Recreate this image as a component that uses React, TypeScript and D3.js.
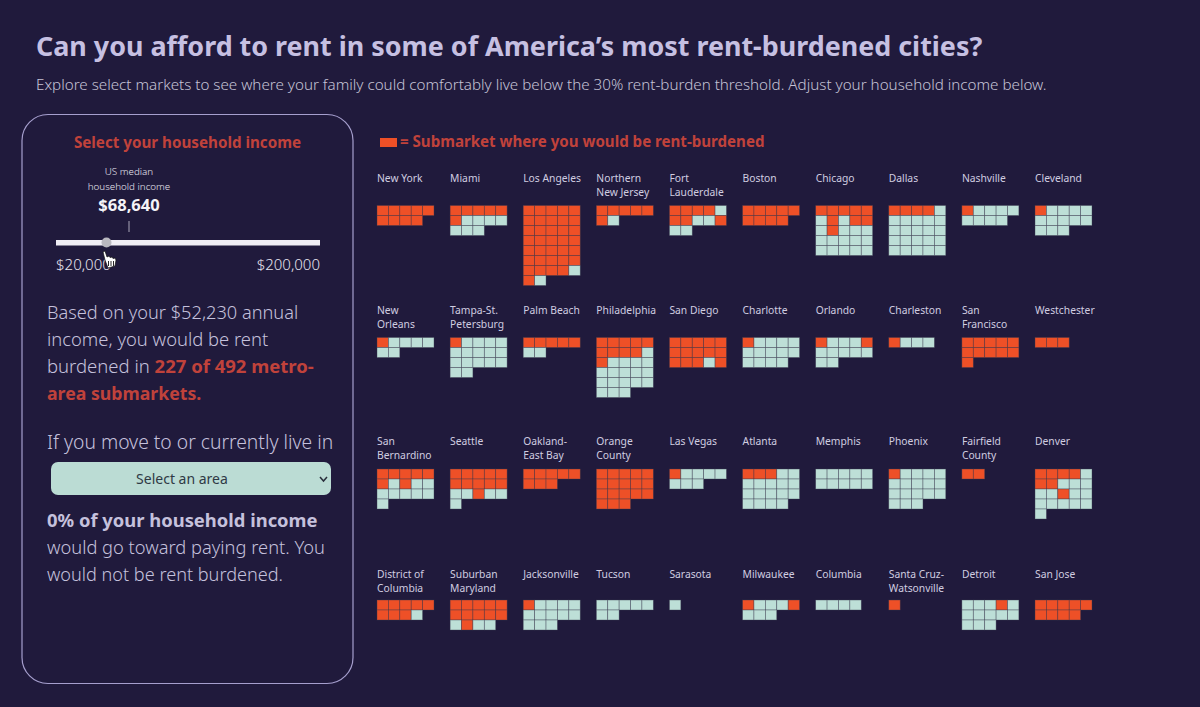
import React from "react";
import * as d3 from "d3";

const BG = "#201a3c";
const RED_CELL = "#ee5027";
const GREEN_CELL = "#bddfd7";
const RED_TEXT = "#c0423b";
const LAV = "#c6c0e2";
const BODY = "#c5c1dc";
const FONT = "'Noto Sans', sans-serif";

const cityLabels: string[][] = [
  ["New York"], ["Miami"], ["Los Angeles"], ["Northern", "New Jersey"], ["Fort", "Lauderdale"], ["Boston"], ["Chicago"], ["Dallas"], ["Nashville"], ["Cleveland"],
  ["New", "Orleans"], ["Tampa-St.", "Petersburg"], ["Palm Beach"], ["Philadelphia"], ["San Diego"], ["Charlotte"], ["Orlando"], ["Charleston"], ["San", "Francisco"], ["Westchester"],
  ["San", "Bernardino"], ["Seattle"], ["Oakland-", "East Bay"], ["Orange", "County"], ["Las Vegas"], ["Atlanta"], ["Memphis"], ["Phoenix"], ["Fairfield", "County"], ["Denver"],
  ["District of", "Columbia"], ["Suburban", "Maryland"], ["Jacksonville"], ["Tucson"], ["Sarasota"], ["Milwaukee"], ["Columbia"], ["Santa Cruz-", "Watsonville"], ["Detroit"], ["San Jose"],
];

// r = submarket where the household would be rent-burdened, g = not burdened; 5 cells per row
const citySubmarkets: string[] = [
  "rrrrr rrrr", "rrrrr rgggg ggg", "rrrrr rrrrr rrrrr rrrrr rrrrr rrrrr rrrrg rg", "rrrrr rg", "rrrrg rrggr gg", "rrrrr rrrr", "rrrrr grgrr grggg ggggg ggggg", "rrrrg ggggg ggggg ggggg ggggg", "rgggg gggg", "rgggg ggggg ggg",
  "rgggg gg", "rgggg ggggg ggggg gg", "rrrrr gg", "rrrrr rrrrg rgggg ggggg ggggg ggg", "rrrrr rrrrr rrrgr", "rgggg ggggg gggg", "rgggr ggggg gg", "rggg", "rrrrr rrrrr r", "rrr",
  "rrrrr rgrgg ggggg g", "rrrrr rrrrr ggrgg g", "rrrrr rrr", "rrrrr rrrrr rrrrr rrr", "rgggg ggg", "rrrgg ggggg ggggg gggg", "ggggg ggggg", "rgggg ggggg ggggg ggg", "rr", "rrrrg rrggg ggrgg ggggg g",
  "rrrrr rrrg", "rrrrr rrrrr grgg", "rgggg ggggg ggg", "ggggg gg", "g", "rgggr ggg", "gggg", "r", "gggrg ggggg ggg", "rrrrr rrrr",
];

const rowLabelY = [182, 314, 445, 578];
const rowGridY = [205.5, 337.5, 469, 600];

const COLS = 10;
const x = d3.scaleLinear().domain([0, COLS - 1]).range([377, 1035]);
const cellX = d3.scaleLinear().domain([0, 5]).range([0, 57]);
const cellY = d3.scaleLinear().domain([0, 8]).range([0, 80]);
const incomeX = d3.scaleLinear().domain([20000, 200000]).range([56, 320]);

const leftLines: { y: number; size: number; parts: { t: string; bold?: boolean }[] }[] = [
  { y: 319, size: 18.2, parts: [{ t: "Based on your $52,230 annual" }] },
  { y: 346, size: 18.4, parts: [{ t: "income, you would be rent" }] },
  { y: 373, size: 18.5, parts: [{ t: "burdened in " }, { t: "227 of 492 metro-", bold: true }] },
  { y: 400, size: 17.7, parts: [{ t: "area submarkets.", bold: true }] },
];

export default function App() {
  return (
    <svg width={1200} height={707} style={{ position: "absolute", left: 0, top: 0, display: "block" }} fontFamily={FONT}>
      <rect width={1200} height={707} fill={BG} />
      <text x={36} y={56} fontSize={26.9} fontWeight={700} fill={LAV}>Can you afford to rent in some of America’s most rent-burdened cities?</text>
      <text x={36} y={90} fontSize={15.2} fontWeight={300} fill="#c5c3d6">Explore select markets to see where your family could comfortably live below the 30% rent-burden threshold. Adjust your household income below.</text>

      <rect x={22} y={114.5} width={331} height={569} rx={26} fill="none" stroke="#a69fce" strokeWidth={1.2} />
      <text x={187.5} y={148} fontSize={15.2} fontWeight={700} fill={RED_TEXT} textAnchor="middle">Select your household income</text>
      <text x={129} y={175} fontSize={9.8} fontWeight={300} fill="#e8e6f0" textAnchor="middle">US median</text>
      <text x={129} y={190} fontSize={9.8} fontWeight={300} fill="#e8e6f0" textAnchor="middle">household income</text>
      <text x={129} y={211} fontSize={16.5} fontWeight={700} fill="#f4f3f8" textAnchor="middle">$68,640</text>
      <line x1={129} x2={129} y1={221} y2={232} stroke="#a9a6b8" strokeWidth={1} />
      <rect x={incomeX(20000)} y={240} width={incomeX(200000) - incomeX(20000)} height={5.5} fill="#efedf4" />
      <circle cx={106.5} cy={242.5} r={5} fill="#b9b8bf" />
      <text x={56} y={270} fontSize={15} fontWeight={300} fill="#e6e4ee">$20,000</text>
      <text x={320} y={270} fontSize={15} fontWeight={300} fill="#e6e4ee" textAnchor="end">$200,000</text>
      <g transform="translate(102,251)" stroke="#111" strokeWidth={0.7} fill="#fff">
        <path d="M1,1 L3,0 L5,6 L7,5 L8,6.5 L10,6 L11,7.5 L13,7 L14,9 L13,15 L6,17 L3,9 Z" />
        <path d="M6.5,10 V15 M9,10 V15 M11.5,10 V15" fill="none" strokeWidth={0.9} />
      </g>

      {leftLines.map((l) => (
        <text key={l.y} x={47} y={l.y} fontSize={l.size} fontWeight={300} fill={BODY}>
          {l.parts.map((p, i) => (
            <tspan key={i} fontWeight={p.bold ? 700 : 300} fill={p.bold ? RED_TEXT : BODY}>{p.t}</tspan>
          ))}
        </text>
      ))}
      <text x={47} y={449} fontSize={19.3} fontWeight={300} fill={BODY}>If you move to or currently live in</text>
      <rect x={51} y={462} width={280} height={33} rx={7} fill="#bbdcd4" />
      <text x={182} y={484} fontSize={14} fontWeight={400} fill="#2f3a45" textAnchor="middle">Select an area</text>
      <path d="M320,477 L323.5,481 L327,477" fill="none" stroke="#2a2f3c" strokeWidth={1.5} />
      <text x={47} y={527} fontSize={18.4} fontWeight={700} fill={BODY}>0% of your household income</text>
      <text x={47} y={554} fontSize={18.3} fontWeight={300} fill={BODY}>would go toward paying rent. You</text>
      <text x={47} y={581} fontSize={18.1} fontWeight={300} fill={BODY}>would not be rent burdened.</text>

      <rect x={380} y={138} width={17} height={9} fill={RED_CELL} />
      <text x={400} y={147} fontSize={15.1} fontWeight={700} fill={RED_TEXT}>= Submarket where you would be rent-burdened</text>

      {cityLabels.map((lines, i) => {
        const col = i % COLS;
        const row = Math.floor(i / COLS);
        const cx = x(col);
        const cells = citySubmarkets[i].replace(/ /g, "").split("");
        return (
          <g key={i}>
            {lines.map((ln, j) => (
              <text key={j} x={cx} y={rowLabelY[row] + j * 13.5} fontSize={10.3} fontWeight={400} fill="#d0cde0">{ln}</text>
            ))}
            {cells.map((c, k) => (
              <rect
                key={k}
                x={cx + cellX(k % 5)}
                y={rowGridY[row] + cellY(Math.floor(k / 5))}
                width={cellX(1)}
                height={cellY(1)}
                fill={c === "r" ? RED_CELL : GREEN_CELL}
                stroke="#3c3a50"
                strokeOpacity={0.55}
                strokeWidth={0.7}
              />
            ))}
          </g>
        );
      })}
    </svg>
  );
}
